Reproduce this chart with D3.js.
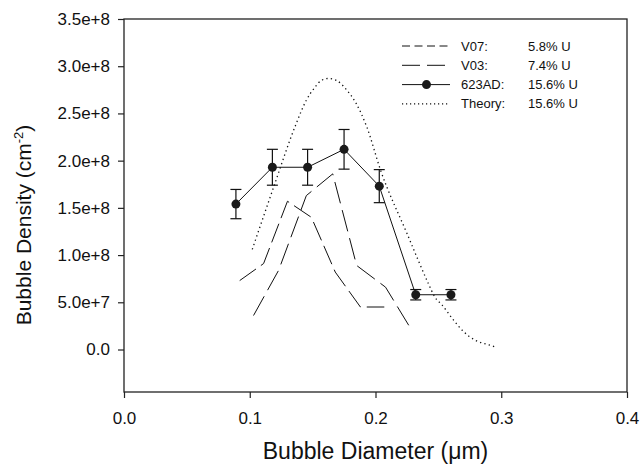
<!DOCTYPE html>
<html lang="en">
<head>
    <meta charset="UTF-8">
    <title>Bubble Density vs Bubble Diameter</title>
    <script src="https://cdn.jsdelivr.net/npm/d3@7"></script>
    <style>
        body {
            margin: 0;
            background-color: #fff;
        }
        svg {
            display: block;
            font-family: "Liberation Sans", Arial, sans-serif;
        }
    </style>
</head>
<body>
    <svg id="chart" width="642" height="467"></svg>

    <script>
        // 623AD measured points with error bars
        const expX = [0.089, 0.118, 0.146, 0.175, 0.203, 0.232, 0.260];
        const expY = [1.54e8, 1.93e8, 1.93e8, 2.12e8, 1.73e8, 0.58e8, 0.58e8];
        const expErr = [1.55e7, 1.9e7, 1.9e7, 2.1e7, 1.75e7, 0.55e7, 0.55e7];

        // V07 and V03 curves
        const v07X = [0.092, 0.111, 0.130, 0.149, 0.168, 0.188, 0.207];
        const v07Y = [0.73e8, 0.91e8, 1.57e8, 1.40e8, 0.82e8, 0.45e8, 0.45e8];
        const v03X = [0.103, 0.123, 0.145, 0.166, 0.185, 0.208, 0.229];
        const v03Y = [0.36e8, 0.84e8, 1.63e8, 1.86e8, 0.89e8, 0.66e8, 0.20e8];

        // Theory curve
        const theoryX = [0.102, 0.119, 0.136, 0.145, 0.152, 0.157, 0.1625, 0.169, 0.177, 0.184, 0.193,
                         0.204, 0.225, 0.242, 0.247, 0.253, 0.261, 0.270, 0.279, 0.290, 0.296];
        const theoryY = [1.06e8, 1.72e8, 2.36e8, 2.64e8, 2.78e8, 2.85e8, 2.87e8, 2.85e8, 2.75e8, 2.62e8, 2.36e8,
                         1.90e8, 1.23e8, 0.70e8, 0.56e8, 0.47e8, 0.33e8, 0.19e8, 0.10e8, 0.05e8, 0.024e8];

        const xTicks = [0, 0.1, 0.2, 0.3, 0.4];
        const xTickLabels = ["0.0", "0.1", "0.2", "0.3", "0.4"];
        const yTicks = [0, 0.5e8, 1.0e8, 1.5e8, 2.0e8, 2.5e8, 3.0e8, 3.5e8];
        const yTickLabels = ["0.0", "5.0e+7", "1.0e+8", "1.5e+8", "2.0e+8", "2.5e+8", "3.0e+8", "3.5e+8"];

        const legendNames = ["V07:", "V03:", "623AD:", "Theory:"];
        const legendValues = ["5.8% U", "7.4% U", "15.6% U", "15.6% U"];

        const width = 642;
        const height = 467;
        const margin = { top: 19, right: 15, bottom: 75, left: 124 };

        const svg = d3.select("#chart");

        const x = d3.scaleLinear()
            .domain([0, 0.4])
            .range([margin.left, width - margin.right]);

        const y = d3.scaleLinear()
            .domain([-0.45e8, 3.5e8])
            .range([height - margin.bottom, margin.top]);

        // frame
        svg.append("rect")
            .attr("x", margin.left)
            .attr("y", margin.top)
            .attr("width", width - margin.left - margin.right)
            .attr("height", height - margin.top - margin.bottom)
            .attr("fill", "none")
            .attr("stroke", "#222")
            .attr("stroke-width", 1.3);

        const xAxis = svg.append("g")
            .attr("transform", `translate(0,${height - margin.bottom})`)
            .call(d3.axisBottom(x)
                .tickValues(xTicks)
                .tickFormat((d, i) => xTickLabels[i])
                .tickSize(6)
                .tickPadding(14));

        const yAxis = svg.append("g")
            .attr("transform", `translate(${margin.left},0)`)
            .call(d3.axisLeft(y)
                .tickValues(yTicks)
                .tickFormat((d, i) => yTickLabels[i])
                .tickSize(6)
                .tickPadding(8));

        [xAxis, yAxis].forEach(g => {
            g.select(".domain").remove();
            g.selectAll(".tick line").attr("stroke", "#222").attr("stroke-width", 1.2);
            g.selectAll(".tick text")
                .attr("fill", "#111")
                .attr("font-size", "17px")
                .attr("font-family", "Liberation Sans, Arial, sans-serif");
        });

        // axis titles
        svg.append("text")
            .attr("x", (margin.left + width - margin.right) / 2)
            .attr("y", 459)
            .attr("text-anchor", "middle")
            .attr("font-size", "23px")
            .attr("fill", "#111")
            .text("Bubble Diameter (\u03bcm)");

        const yTitle = svg.append("text")
            .attr("transform", "translate(31,225) rotate(-90)")
            .attr("text-anchor", "middle")
            .attr("font-size", "21px")
            .attr("fill", "#111");
        yTitle.append("tspan").text("Bubble Density (cm");
        yTitle.append("tspan").attr("font-size", "13px").attr("dy", "-8").text("-2");
        yTitle.append("tspan").attr("dy", "8").text(")");

        const line = d3.line()
            .x(d => x(d[0]))
            .y(d => y(d[1]));

        const plotDash = ["20,6", "22,7"];
        const legendDash = ["8,4.5", "18,7"];

        // V07
        svg.append("path")
            .datum(d3.zip(v07X, v07Y))
            .attr("d", line)
            .attr("fill", "none")
            .attr("stroke", "#111")
            .attr("stroke-width", 1)
            .attr("stroke-dasharray", plotDash[0]);

        // V03
        svg.append("path")
            .datum(d3.zip(v03X, v03Y))
            .attr("d", line)
            .attr("fill", "none")
            .attr("stroke", "#111")
            .attr("stroke-width", 1)
            .attr("stroke-dasharray", plotDash[1]);

        // Theory
        svg.append("path")
            .datum(d3.zip(theoryX, theoryY))
            .attr("d", line.curve(d3.curveMonotoneX))
            .attr("fill", "none")
            .attr("stroke", "#111")
            .attr("stroke-width", 1.3)
            .attr("stroke-dasharray", "1.3,3.2");
        line.curve(d3.curveLinear);

        // 623AD
        const expData = d3.zip(expX, expY, expErr);
        svg.append("path")
            .datum(expData)
            .attr("d", line)
            .attr("fill", "none")
            .attr("stroke", "#111")
            .attr("stroke-width", 1);

        const bars = svg.append("g")
            .attr("stroke", "#111")
            .attr("stroke-width", 1.2);
        expData.forEach(d => {
            const cx = x(d[0]);
            const top = y(d[1] + d[2]);
            const bot = y(d[1] - d[2]);
            bars.append("line").attr("x1", cx).attr("x2", cx).attr("y1", top).attr("y2", bot);
            bars.append("line").attr("x1", cx - 5.5).attr("x2", cx + 5.5).attr("y1", top).attr("y2", top);
            bars.append("line").attr("x1", cx - 5.5).attr("x2", cx + 5.5).attr("y1", bot).attr("y2", bot);
        });

        svg.append("g")
            .selectAll("circle")
            .data(expData)
            .join("circle")
            .attr("cx", d => x(d[0]))
            .attr("cy", d => y(d[1]))
            .attr("r", 4.5)
            .attr("fill", "#1a1a1a");

        // legend
        const legend = svg.append("g").attr("transform", "translate(402,46)");
        const rowH = 19.3;
        legendNames.forEach((name, i) => {
            const row = legend.append("g").attr("transform", `translate(0,${i * rowH})`);
            const ln = row.append("line")
                .attr("x1", 0).attr("x2", 48)
                .attr("y1", 0).attr("y2", 0)
                .attr("stroke", "#111")
                .attr("stroke-width", i === 3 ? 1.3 : 1);
            if (i < 2) ln.attr("stroke-dasharray", legendDash[i]);
            if (i === 3) ln.attr("stroke-dasharray", "1.2,2.8");
            if (i === 2) {
                row.append("circle").attr("cx", 24.5).attr("cy", 0).attr("r", 4.5).attr("fill", "#1a1a1a");
            }
            row.append("text")
                .attr("x", 59)
                .attr("y", 4.5)
                .attr("font-size", "13px")
                .attr("fill", "#111")
                .text(name);
            row.append("text")
                .attr("x", 126)
                .attr("y", 4.5)
                .attr("font-size", "13px")
                .attr("fill", "#111")
                .text(legendValues[i]);
        });
    </script>
</body>
</html>
